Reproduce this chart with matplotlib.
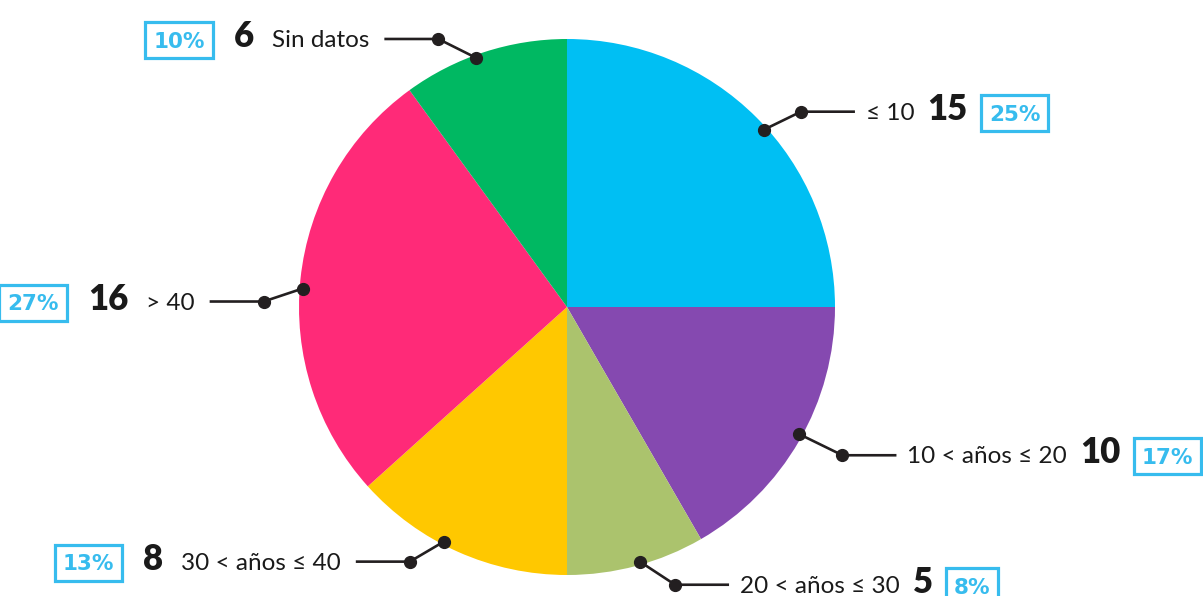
import matplotlib
matplotlib.use("Agg")
import matplotlib.pyplot as plt
from matplotlib.patches import Rectangle
import numpy as np

# ---- data ----
labels = ["≤ 10", "10 < años ≤ 20", "20 < años ≤ 30", "30 < años ≤ 40", "> 40", "Sin datos"]
values = [15, 10, 5, 8, 16, 6]
colors = ["#00BFF3", "#8549B0", "#ABC36D", "#FFC800", "#FF2A78", "#00B862"]

# ---- layout (pixels) ----
W, H = 1203, 596
center = (567, H - 307)
radius = 268
dot_r = 265
# small angular nudges of the leader-line anchor (degrees)
nudges = [-3, 1.3, 1, -3.7, 2, 2]
# elbow offsets (dx, dy up-positive) per label
elbows = [(37, 18), (43, -21), (35, -23), (-34, -20), (-39, -13), (-38, 19)]
hlen = 54

LINE = "#231F20"
CYAN = "#37BCEE"
TXT = "#1A1A1A"

fig = plt.figure(figsize=(W / 100, H / 100), dpi=100)
ax = fig.add_axes([0, 0, 1, 1])
wedges, _ = ax.pie(values, colors=colors, startangle=90, counterclock=False,
                   center=center, radius=radius, frame=True,
                   wedgeprops=dict(linewidth=0, antialiased=True))
ax.set_xlim(0, W)
ax.set_ylim(0, H)
ax.set_aspect("equal")
ax.axis("off")

fig.canvas.draw()
renderer = fig.canvas.get_renderer()
inv = ax.transData.inverted()


def extent(t):
    bb = t.get_window_extent(renderer=renderer)
    (x0, y0), (x1, y1) = inv.transform([(bb.x0, bb.y0), (bb.x1, bb.y1)])
    return x0, y0, x1, y1


PCT_FS = 15.5
cap = 0.73 * PCT_FS * 100 / 72

total = sum(values)
for w, lab, val, (edx, edy), nd in zip(wedges, labels, values, elbows, nudges):
    th = np.deg2rad((w.theta1 + w.theta2) / 2 + nd)
    px = center[0] + dot_r * np.cos(th)
    py = center[1] + dot_r * np.sin(th)
    ex, ey = px + edx, py + edy
    right = np.cos(th) > 0
    sx = ex + hlen if right else ex - hlen
    ax.plot([px, ex, sx], [py, ey, ey], color=LINE, lw=1.9, solid_capstyle="butt", zorder=3)
    ax.plot([px, ex], [py, ey], "o", color=LINE, ms=8.5, zorder=4)

    pct = f"{round(100 * val / total)}%"
    base = ey - 8  # baseline below line
    cy = ey - 1
    pbase = cy - cap / 2
    if right:
        t1 = ax.text(sx + 11, base, lab, ha="left", va="baseline", fontsize=17.5,
                     family=["Lato", "DejaVu Sans"], color=TXT)
        x1 = extent(t1)[2]
        t2 = ax.text(x1 + 13, base, str(val), ha="left", va="baseline", fontsize=25,
                     family=["Lato", "DejaVu Sans"], fontweight="heavy", color=TXT)
        x2 = extent(t2)[2]
        bx0 = x2 + 12
        t3 = ax.text(bx0 + 9, pbase, pct, ha="left", va="baseline", fontsize=PCT_FS,
                     family="DejaVu Sans", fontweight="bold", color=CYAN)
    else:
        t1 = ax.text(sx - 15, base, lab, ha="right", va="baseline", fontsize=17.5,
                     family=["Lato", "DejaVu Sans"], color=TXT)
        x1 = extent(t1)[0]
        t2 = ax.text(x1 - 18, base, str(val), ha="right", va="baseline", fontsize=25,
                     family=["Lato", "DejaVu Sans"], fontweight="heavy", color=TXT)
        x2 = extent(t2)[0]
        bx1 = x2 - 20
        t3 = ax.text(bx1 - 9, pbase, pct, ha="right", va="baseline", fontsize=PCT_FS,
                     family="DejaVu Sans", fontweight="bold", color=CYAN)
    a0, b0, a1, b1 = extent(t3)
    ax.add_patch(Rectangle((a0 - 8, cy - 18), (a1 - a0) + 16, 36, fill=False,
                           edgecolor=CYAN, lw=2.3, zorder=5, clip_on=False))

fig.savefig("out.png", dpi=100, facecolor="white")
